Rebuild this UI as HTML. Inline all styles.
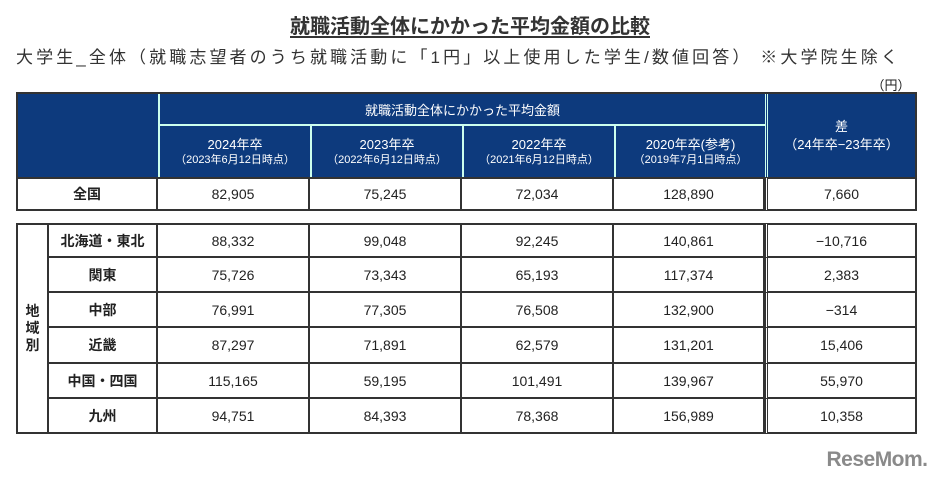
<!DOCTYPE html>
<html><head><meta charset="utf-8"><style>
body{margin:0;width:940px;height:484px;background:#fff;position:relative;overflow:hidden;font-family:"Liberation Sans","Noto Sans CJK JP",sans-serif;color:#222}
.a{position:absolute;box-sizing:border-box;display:flex;align-items:center;justify-content:center;text-align:center}
.h{background:#0d3a7d;color:#fff}
.c{border:0 solid #333;font-size:14px}
</style></head><body>
<div class="a" style="left:0;top:10px;width:940px;height:28px;font-size:20px;font-weight:bold;color:#333;text-decoration:underline;text-underline-offset:3px">就職活動全体にかかった平均金額の比較</div>
<div class="a" style="left:16px;top:42px;width:924px;height:26px;justify-content:flex-start;font-size:17px;letter-spacing:3.1px;color:#333;white-space:nowrap">大学生_全体（就職志望者のうち就職活動に「1円」以上使用した学生/数値回答） ※大学院生除く</div>
<div class="a" style="left:868px;top:76px;width:46px;height:16px;font-size:13px">（円）</div>
<div id="t"></div>
<div class="a" style="left:826px;top:448px;width:102px;height:24px;font-size:21px;font-weight:bold;color:#8a8a8a;letter-spacing:-0.5px">ReseMom.</div>
<script>
const cols=["2024年卒","2023年卒","2022年卒","2020年卒(参考)"];
const colNotes=["（2023年6月12日時点）","（2022年6月12日時点）","（2021年6月12日時点）","（2019年7月1日時点）"];
const national=["82,905","75,245","72,034","128,890","7,660"];
const regions=["北海道・東北","関東","中部","近畿","中国・四国","九州"];
const r2024=["88,332","75,726","76,991","87,297","115,165","94,751"];
const r2023=["99,048","73,343","77,305","71,891","59,195","84,393"];
const r2022=["92,245","65,193","76,508","62,579","101,491","78,368"];
const r2020=["140,861","117,374","132,900","131,201","139,967","156,989"];
const rDiff=["-10,716","2,383","-314","15,406","55,970","10,358"];
const X=[16,158,310,462,614,765,917];
const T=document.getElementById('t');
function box(x,y,w,h,cls,html,name,extra){
  const d=document.createElement('div');
  d.className='a '+cls;
  d.style.cssText=`left:${x}px;top:${y}px;width:${w}px;height:${h}px;`+(extra||'');
  d.innerHTML=html;
  
  
  T.appendChild(d);return d;
}
// header
box(16,92,901,85,'h','', 'header-background','border:2px solid #333;border-bottom:0');
box(158,94,607,32,'h','就職活動全体にかかった平均金額','header-group','font-size:13px;border-left:2px solid #cfe;border-bottom:2px solid #cfe');
cols.forEach((c,i)=>{
  box(X[i+1],126,X[i+2]-X[i+1],51,'h',`<div><div style="font-size:13px;line-height:17px">${c}</div><div style="font-size:11px;line-height:15px">${colNotes[i]}</div></div>`,'column-header','border-left:2px solid #cfe');
});
box(765,94,150,83,'h','<div style="font-size:13px;line-height:18px">差<br>（24年卒−23年卒）</div>','diff-header','border-left:3px double #cfe');
// national row
box(16,177,142,34,'c','全国','row-label-national','font-weight:bold;border-width:2px');
national.forEach((v,i)=>{
  box(X[i+1],177,X[i+2]-X[i+1],34,'c',v,'national-cell','border-width:2px 2px 2px 0;'+(i==4?'border-left:3px double #333;':''));
});
// regions
box(16,223,33,211,'c','<div style="line-height:17px;font-weight:bold">地<br>域<br>別</div>','region-group-label','border-width:2px');
const rowsY=[223,258,293,328,364,399,434];
const data=[r2024,r2023,r2022,r2020,rDiff];
regions.forEach((r,j)=>{
  const y=rowsY[j],h=rowsY[j+1]-y;
  const tb=j==0?'2px':'0';
  box(49,y,109,h,'c',r,'row-label-'+j,`font-weight:bold;border-width:${tb} 2px 2px 0`);
  data.forEach((arr,i)=>{
    box(X[i+1],y,X[i+2]-X[i+1],h,'c',arr[j].replace('-','−'),'region-cell',`border-width:${tb} 2px 2px 0;`+(i==4?'border-left:3px double #333;':''));
  });
});
</script>
</body></html>
